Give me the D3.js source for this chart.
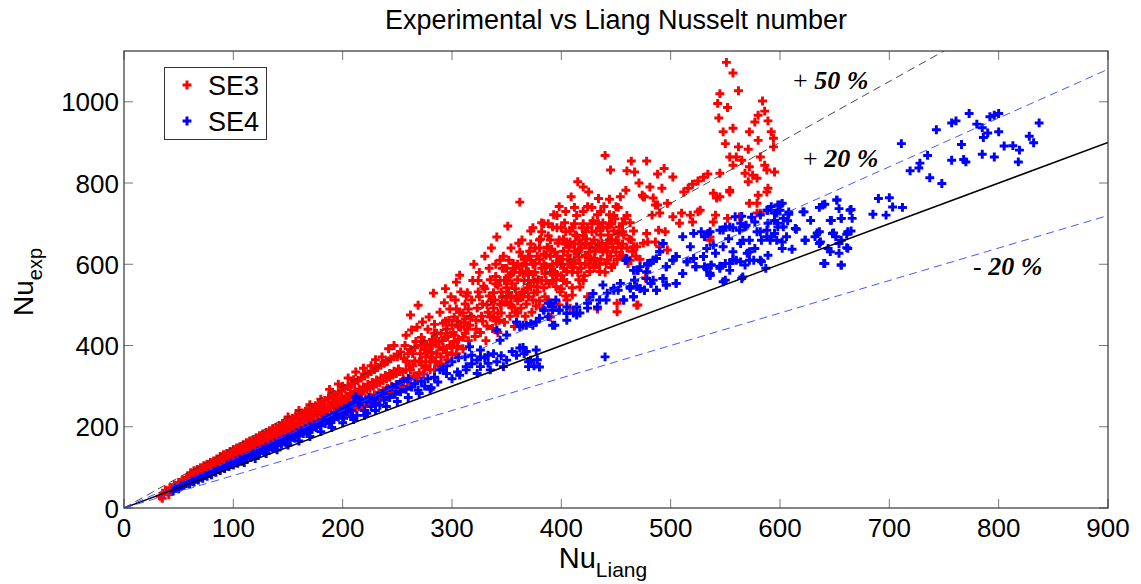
<!DOCTYPE html>
<html>
<head>
<meta charset="utf-8">
<script src="https://cdn.jsdelivr.net/npm/d3@7"></script>
<style>
html,body{margin:0;padding:0;background:#fff;}
svg{display:block;font-family:"Liberation Sans",Arial,Helvetica,sans-serif;}
</style>
</head>
<body>
<svg id="chart" width="1141" height="584"></svg>
<script>
// ---------------- data ----------------
const chartTitle = "Experimental vs Liang Nusselt number";
const xTicks = [0,100,200,300,400,500,600,700,800,900];
const yTicks = [0,200,400,600,800,1000];
const xDomain = [0,900];
const yDomain = [0,1125];
const seriesNames = ["SE3","SE4"];
const refRatios = [1.0,1.5,1.2,0.8];
const refLabels = [
  {ratio:1.5, sign:"+ ", text:"50 %"},
  {ratio:1.2, sign:"+ ", text:"20 %"},
  {ratio:0.8, sign:"- ", text:"20 %"}
];

// SE3 (red) [Nu_Liang, Nu_exp]
const se3 = [
[33,29],[35,24],[36,36],[38,44],[40,39],[41,33],[42,50],[44,47],[46,57],[47,51],[48,53],[50,63],[52,58],[53,66],[54,69],[56,63],[57,72],[58,75],
[60,69],[60,78],[61,87],[62,73],[63,82],[64,92],[66,75],[66,85],[67,95],[68,79],[69,89],[70,99],[72,83],[72,93],[73,104],[74,86],[75,96],[76,108],[77,89],[78,101],[79,112],[80,92],[81,104],[82,116],[83,95],[84,109],[85,121],[86,99],[87,112],[88,127],[89,103],[90,115],[91,131],[92,106],[93,120],[94,134],[95,110],[96,124],[97,139],[98,113],[99,127],[100,144],[101,116],[102,131],[103,148],[104,121],[105,135],[106,151],[107,124],[108,140],[109,156],[110,127],[111,143],[112,161],[113,130],[114,146],[115,165],[116,134],[117,151],[118,168],[119,137],[120,155],[121,173],[122,141],[123,158],[124,178],[125,144],[126,163],[127,182],[128,148],[129,166],[130,186],[131,152],[132,170],[133,190],[134,155],[135,174],[136,195],[137,158],[138,178],[139,199],[140,162],[141,182],[142,203],[143,166],[144,186],[145,208],[146,169],[147,190],[148,212],[149,173],[150,194],[151,216],[152,176],[153,198],[154,221],[155,180],[156,202],[157,225],[158,183],[159,206],[160,229],[161,186],[162,210],[163,234],[164,190],[165,214],[166,238],[167,194],[168,218],[169,243],[170,197],[171,222],[172,247],[173,200],[174,226],[175,252],[176,204],[177,230],[178,256],[179,207],[180,234],[181,260],[182,211],[183,238],[184,265],[185,214],[186,242],[187,270],[188,218],[189,246],[190,274],[191,221],[192,250],[193,279],[194,225],[195,254],[196,284],[197,228],[198,258],[199,289],[200,232],[201,262],[202,294],[203,235],[204,266],[205,299],[206,239],[207,271],[208,304],[209,242],[210,275],[211,309],[212,246],[213,279],[214,314],[215,249],[216,283],[217,320],[218,253],[219,288],[220,325],[221,256],[222,292],[223,330],[224,260],[225,296],[226,336],[227,263],[228,300],[229,341],[230,267],[231,305],[232,346],[233,270],[234,309],[235,351],[236,274],[237,314],[238,356],[239,277],[240,318],[241,362],[242,281],[243,322],[244,367],[245,285],[246,327],[247,372],[248,288],[249,331],[250,378],[251,292],[252,336],[253,384],
[62,79],[66,88],[70,90],[74,95],[78,96],[82,103],[86,107],[90,110],[94,118],[98,120],
[101,122],[103,139],[105,127],[107,144],[109,132],[111,150],[113,137],[115,155],[117,142],[119,161],[121,147],[123,166],[125,152],[127,172],[129,157],[131,177],[133,162],[135,183],[137,166],[139,188],[141,171],[143,194],[145,176],[147,199],[149,181],[151,205],[153,186],[155,210],[157,190],[159,216],[161,195],[163,221],[165,200],[167,227],[169,205],[171,232],[173,210],[175,238],[177,215],[179,243],[181,220],[183,249],[185,225],[187,254],[189,230],[191,260],[193,235],[195,265],[197,240],[199,271],[201,245],[203,276],[205,250],[207,282],[209,254],[211,287],[213,259],[215,293],[217,264],[219,298],[221,269],[223,304],[225,274],[227,309],[229,279],[231,315],[233,284],[235,320],[237,289],[239,326],[241,294],[243,331],[245,299],[247,337],[249,304],[251,342],[253,309],
[150,224],[160,240],[170,254],[180,268],[190,284],[200,300],[210,316],[220,330],[230,345],[240,360],[250,372],
[205,320],[219,344],[226,350],[236,372],[242,392],[212,335],[230,365],[247,400],[196,305],[188,292],
[255,300],[255,335],[256,368],[257,400],[258,425],[260,318],[261,352],[262,390],[262,475],[263,438],[265,325],[266,362],[267,410],[268,445],[269,499],[270,333],[271,380],[272,420],[273,458],[275,345],[276,372],[277,402],[278,440],[279,470],[280,340],[281,383],[282,415],[283,529],[284,452],[285,360],[286,430],[287,352],[288,396],[289,482],[290,372],[291,412],[292,455],[293,505],[294,540],[295,382],[296,422],[297,462],[298,490],[299,520],[300,378],[301,432],[302,470],[303,512],[304,556],[305,398],[306,446],[307,482],[307,573],[308,532],[310,392],[311,456],[312,502],[313,522],[315,412],[316,450],[317,472],[318,512],[319,560],[320,600],[321,422],[322,462],[323,492],[324,532],[325,580],[326,432],[327,472],[328,502],[329,546],[330,620],[331,412],[332,448],[333,482],[334,522],[335,562],[336,640],[337,442],[338,492],[339,512],[340,552],[341,667],[342,432],[343,462],[344,502],[345,532],[346,590],[347,620],[348,457],[349,507],[350,542],[351,694],[352,572],[353,472],[354,517],[355,552],[356,602],[357,447],[358,482],[359,522],[360,562],[361,652],[362,753],[363,492],[364,532],[365,577],[366,612],[367,472],[368,502],[369,542],[370,582],[371,632],[372,682],[373,482],[374,512],[375,557],[376,602],[377,497],[378,532],[379,562],[380,612],[381,662],[382,702],[383,492],[384,542],[385,577],[386,622],[387,642],[388,512],[389,552],[390,592],[391,637],[392,692],[393,722],[394,502],[395,562],[396,602],[397,652],[398,742],[399,532],[400,572],[401,612],[402,662],[403,702],[404,522],[405,582],[406,622],[407,642],[408,682],[409,766],[410,542],[411,592],[412,632],[413,672],[414,720],[415,803],[416,562],[417,602],[418,652],[419,690],[420,790],[421,572],[422,622],[423,662],[424,742],[425,778],[426,582],[427,612],[428,652],[429,707],[430,592],[431,632],[432,682],[433,722],[434,762],[435,582],[436,612],[437,652],[438,702],[439,742],[440,868],[441,602],[442,632],[443,672],[444,722],[445,832],[446,592],[447,642],[448,682],[449,712],[450,742],[451,612],[452,652],[453,692],[454,766],[456,622],[457,672],[458,712],[459,782],[460,830],[461,602],[462,662],[463,702],[464,854],[465,632],[466,682],[467,827],[468,585],[469,643],[470,500],[471,800],[472,612],[474,770],[475,652],[476,766],[478,854],[478,676],[479,655],[481,790],[483,721],[484,763],[486,655],[486,746],[488,822],[488,746],[489,684],[490,643],[490,726],[492,787],[494,836],[495,680],[497,635],[497,750],[502,815],[502,717],[508,701],[510,726],[512,778],[516,787],[518,721],[520,797],[520,704],[525,805],[525,729],[527,733],[530,814],[534,822],[536,667],[536,659],[539,704],[539,775],[541,721],[542,763],[543,996],[544,960],[545,1020],[545,824],[545,766],[548,926],[550,897],[551,1097],[552,986],[552,713],[554,778],[554,864],[554,782],[557,1071],[557,935],[557,844],[560,864],[562,1027],[562,889],[563,717],[565,856],[568,824],[571,883],[571,803],[572,926],[572,840],[572,750],[575,819],[577,950],[579,812],[579,750],[579,726],[580,967],[580,905],[580,770],[582,864],[582,726],[584,1002],[586,977],[586,844],[588,832],[588,778],[589,953],[589,787],[592,926],[594,910],[594,889],[595,827],
[390,470],[398,500],[405,512],[417,544],[424,520],[433,490],[451,504],[469,499],[408,492],[410,524],[451,483],[477,566],[463,610],[466,643],[475,766],
[332,500],[338,530],[342,548],[348,560],[354,575],[358,590],[364,595],[368,600],[374,600],[378,620],[384,625],[388,640],[394,630],[398,660],[404,650],[408,655],[414,670],[418,640],[424,690],[428,680],[434,700],[438,690],[444,700],[448,720],[384,600],[392,580],[396,620],[402,632],[412,610],[416,636],[422,648],[430,660],[436,672],[442,650],[452,675],[456,700],[420,700],[410,690],[400,690],[390,660],[380,640],[370,620],[360,600],[350,590],[340,570],[330,540],[325,520],[315,490],[310,480],[305,460],[300,450],[295,440],[290,430],[285,410],[280,400],[275,390],
[345,480],[352,500],[362,520],[372,545],[382,560],[392,600],[402,590],[412,650],[422,600],[432,640],[442,690],[352,610],[362,630],[372,650],[382,680],[366,560],[376,580],[386,595],[396,575],[406,600],[416,618],[426,630],[436,640],[446,660],[456,650],[318,470],[328,460],[338,470],[322,440],[312,430],[302,410],[292,395],[282,370],[272,360],[262,340],[258,362],[264,380],[274,410],[284,430],[294,460],[304,490],[314,530],[324,560],[334,590],[344,610],[354,640],[364,660],[374,690],
[256,315],[258,340],[260,380],[262,305],[264,350],[266,395],[268,320],[270,360],[272,400],[274,330],[276,350],[278,385],[280,360],[282,400],[284,340],[286,380],[288,410],[290,355],[292,390],[294,420],[296,365],[298,400],[300,395],[302,425],[304,380],[306,415],[308,445],[310,420],[312,465],[314,440],
[335,470],[345,500],[355,495],[365,520],[375,530],[385,520],[395,545],[405,555],[415,580],[425,600],[435,600],[445,620],[455,640],[340,460],[360,480],[380,510],[400,540],[420,560],[440,580],[350,520],[370,560],[390,580],[410,600],[430,615],[450,630],
[342,480],[346,520],[350,560],[354,500],[358,540],[362,580],[366,530],[370,520],[374,575],[378,545],[382,590],[386,560],[390,620],[394,580],[398,610],[402,560],[406,650],[410,580],[414,630],[418,590],[422,680],[426,640],[430,610],[434,650],[438,630],[442,610],[446,700],[450,660],[454,620],[444,660],[436,690],[428,700],[420,670],[412,700],[404,680],[396,690],[388,670],[380,660],[372,610],[364,620],[356,580],[348,590],[340,600],[336,510],[344,560],[352,530],[360,510],[368,580],[376,640],[384,700],[392,560],[400,600],[408,610],[416,660],[424,620],[432,600],[440,640],[448,600],[456,680],[460,640],[464,660],[468,620],[460,720],[452,740],[444,760],[436,730],[428,740],[420,730],[412,740],[404,730],[396,720],[388,700]
];

// SE4 (blue) [Nu_Liang, Nu_exp]
const se4 = [
[45,42],[47,48],[50,47],[52,54],[55,56],[57,60],[60,60],[62,66],[64,64],[66,71],[68,69],[70,76],[72,73],[74,80],[76,78],[78,85],[80,82],[82,90],[84,88],[86,95],[88,92],[90,100],[92,97],[94,106],[96,102],[98,110],[100,106],[102,115],[104,110],[106,120],[108,115],[110,125],[112,120],[114,130],[116,124],[118,135],[120,129],[122,140],[124,134],[126,145],[128,138],[130,150],[132,143],[134,155],[136,148],[138,160],[140,153],[142,165],[144,157],[146,170],[148,162],[150,175],[152,167],[154,180],[156,172],[158,186],[160,178],[162,190],[164,183],[166,195],[168,188],[170,200],[172,193],[174,205],[176,198],[178,210],[180,203],[182,216],[184,208],[186,222],[188,213],[190,228],[192,218],[194,234],[196,224],[198,240],[200,230],[201,221],[202,246],[204,236],[206,252],[208,240],[209,225],[210,260],[212,274],[213,228],[215,254],[217,268],[220,240],[222,233],[222,262],[224,272],[226,250],[228,268],[230,258],[232,276],[234,253],[236,282],[238,266],[240,290],[243,272],[245,298],[248,280],[250,304],[253,286],[255,312],[258,292],[260,318],[263,298],[266,306],[269,290],[272,312],[275,300],[278,318],[281,296],[284,322],[287,310],
[110,112],[120,122],[130,134],[140,143],[150,155],[160,165],[170,176],[180,188],[190,198],[200,210],[210,218],[220,228],[230,240],[240,250],[250,262],[260,272],[270,282],[280,292],
[289,340],[295,350],[300,360],[306,370],[312,372],[318,376],[326,372],
[292,340],[295,331],[300,318],[305,335],[307,327],[313,340],[313,348],[316,397],[318,355],[323,331],[323,364],[326,348],[326,389],[330,370],[333,356],[333,376],[335,340],[338,380],[341,360],[345,375],[347,348],[350,364],[355,385],[359,376],[362,394],[365,395],[366,380],[368,385],[370,348],[370,360],[372,364],[375,350],[377,389],[378,365],[380,347],[440,372],
[341,438],[344,413],[350,426],[359,458],[365,450],[372,454],[377,458],[384,487],[388,471],[390,504],[392,487],[392,450],[395,512],[398,487],[405,479],[405,495],[411,480],[414,495],[417,480],[424,492],[424,504],[426,512],[429,528],[433,495],[435,512],[438,549],[441,512],[442,529],[448,536],[448,541],[452,536],[454,553],[457,512],[459,610],[460,614],[463,541],[463,544],[466,520],[466,585],[467,561],[469,545],[470,585],[472,540],[472,594],[476,536],[478,565],[478,581],[479,602],[479,598],[482,553],[484,561],[484,610],[487,614],[487,536],[490,631],[493,651],[493,565],[496,549],[496,594],[502,610],[505,619],[505,553],[511,577],[511,668],[515,606],[518,643],[521,614],[521,676],[523,594],[528,680],[530,619],[533,639],[533,590],[534,676],[536,573],[537,598],
[362,446],[368,450],[374,450],[380,467],[384,487],[388,504],[392,495],[394,450],[398,487],[405,462],[414,475],
[541,627],[548,684],[554,692],[564,701],[569,696],[559,717],[565,718],[589,733],[600,746],[597,726],[608,729],[589,701],[598,701],[603,692],[582,680],[588,668],[597,659],[606,668],[614,688],[621,729],[628,708],[623,659],[632,668],[636,680],[639,746],[647,708],[652,758],[656,713],[664,733],[662,680],[648,676],[654,651],[662,639],[640,602],[656,598],[646,631],[636,651],
[548,643],[557,631],[560,610],[568,598],[576,610],[583,606],[572,631],[564,651],[550,602],[545,590],[537,598],[533,590],[536,573],[550,561],[565,565],[554,585],[557,610],[521,614],[515,606],[523,594],[530,619],[511,577],[502,610],[505,619],[496,594],[484,610],[479,598],[478,581],[470,585],[467,561],[487,536],[496,549],[505,553],[493,565],[482,553],[476,536],[466,520],[457,512],[472,540],[463,544],[459,610],[493,651],[490,631],
[685,723],[690,762],[697,721],[700,764],[703,741],[712,740],[652,758],[654,737],[665,735],[666,713],[641,748],[636,740],[646,708],[656,713],[665,682],[661,674],[649,677],[651,668],[656,659],[654,627],[661,641],[644,639],[641,602],[656,598],[634,677],[637,655],[623,659],[615,686],[608,723],[622,729],[611,637],[602,655],[602,639],[589,622],[582,610],[587,590],[566,569],[548,557],[536,578],[531,594],[545,595],[554,602],[557,612],[564,606],[572,610],[570,627],[577,639],[583,659],[591,659],[572,659],[566,659],[563,684],[568,692],[557,690],[550,692],[545,684],[536,680],[531,668],[539,647],[553,663],[579,680],[588,684],[592,668],[577,704],[574,716],[582,721],[588,733],[592,742],[598,746],[602,750],[600,733],[595,726],[603,713],[607,707],[595,708],[598,692],[595,676],
[711,897],[719,830],[727,837],[728,849],[735,868],[737,813],[743,931],[748,799],[757,948],[761,953],[773,971],[757,856],[766,895],[768,858],[770,852],[780,945],[785,936],[786,912],[790,923],[792,963],[796,967],[800,971],[800,926],[785,871],[796,864],[805,891],[813,892],[819,881],[818,852],[828,915],[832,899],[837,948]
];

// ---------------- layout ----------------
const W = 1141, H = 584;
const plot = {left:124, right:1108, top:51, bottom:508};
const sansFont = "'Liberation Sans', Arial, Helvetica, sans-serif";
const serifFont = "'Liberation Serif', 'Times New Roman', Times, serif";
const svg = d3.select("#chart");
const x = d3.scaleLinear().domain(xDomain).range([plot.left, plot.right]);
const y = d3.scaleLinear().domain(yDomain).range([plot.bottom, plot.top]);

svg.append("rect").attr("width",W).attr("height",H).attr("fill","#fff");
svg.append("defs").append("clipPath").attr("id","clip")
  .append("rect").attr("x",plot.left).attr("y",plot.top)
  .attr("width",plot.right-plot.left).attr("height",plot.bottom-plot.top);

const colors = {SE3:"#ff0000", SE4:"#0000ff"};
const sym = d3.symbol().type(d3.symbolCross).size(44);

const gData = svg.append("g").attr("clip-path","url(#clip)");
[[se3,"SE3"],[se4,"SE4"]].forEach(([pts,name])=>{
  gData.append("g").selectAll("path").data(pts).join("path")
    .attr("d", sym)
    .attr("transform", d=>`translate(${x(d[0])},${y(d[1])})`)
    .attr("fill", colors[name]);
});

// reference lines
const refStyle = {
  "1": {stroke:"#000", width:1.5, dash:null},
  "1.5": {stroke:"#333", width:0.9, dash:"8,5"},
  "1.2": {stroke:"#3344ff", width:0.9, dash:"8,5"},
  "0.8": {stroke:"#3344ff", width:0.9, dash:"8,5"}
};
const gLines = svg.append("g").attr("clip-path","url(#clip)");
refRatios.forEach(k=>{
  const s = refStyle[String(k)];
  gLines.append("line")
    .attr("x1", x(xDomain[0])).attr("y1", y(k*xDomain[0]))
    .attr("x2", x(xDomain[1])).attr("y2", y(k*xDomain[1]))
    .attr("stroke", s.stroke).attr("stroke-width", s.width)
    .attr("stroke-dasharray", s.dash);
});

// axes
const tickLen = 9;
const gAx = svg.append("g").style("font-family", sansFont);
xTicks.forEach(t=>{
  gAx.append("line").attr("x1",x(t)).attr("x2",x(t)).attr("y1",plot.bottom).attr("y2",plot.bottom-tickLen).attr("stroke","#777");
  gAx.append("line").attr("x1",x(t)).attr("x2",x(t)).attr("y1",plot.top).attr("y2",plot.top+tickLen).attr("stroke","#777");
  gAx.append("text").attr("x",x(t)).attr("y",537).attr("text-anchor","middle")
    .attr("font-size",26).text(t);
});
yTicks.forEach(t=>{
  gAx.append("line").attr("x1",plot.left).attr("x2",plot.left+tickLen).attr("y1",y(t)).attr("y2",y(t)).attr("stroke","#777");
  gAx.append("line").attr("x1",plot.right).attr("x2",plot.right-tickLen).attr("y1",y(t)).attr("y2",y(t)).attr("stroke","#777");
  gAx.append("text").attr("x",119).attr("y",y(t)+9.5).attr("text-anchor","end")
    .attr("font-size",26).text(t);
});
gAx.append("rect").attr("x",plot.left).attr("y",plot.top)
  .attr("width",plot.right-plot.left).attr("height",plot.bottom-plot.top)
  .attr("fill","none").attr("stroke","#333").attr("stroke-width",1.2);

// annotations
const annPos = [[793,89],[803,167],[973,275]];
refLabels.forEach((r,i)=>{
  const t = svg.append("text").attr("x",annPos[i][0]).attr("y",annPos[i][1])
    .style("font-family", serifFont).attr("font-size",26);
  t.append("tspan").text(r.sign);
  t.append("tspan").attr("font-weight","bold").attr("font-style","italic").text(r.text);
});

// title
svg.append("text").attr("x",616).attr("y",29).attr("text-anchor","middle")
  .style("font-family", sansFont).attr("font-size",27).text(chartTitle);

// axis labels
const xl = svg.append("text").attr("x",603).attr("y",568).attr("text-anchor","middle")
  .style("font-family", sansFont).attr("font-size",29);
xl.append("tspan").text("Nu");
xl.append("tspan").attr("font-size",21).attr("dy",9).text("Liang");

const yl = svg.append("text").attr("transform","translate(33,282) rotate(-90)").attr("text-anchor","middle")
  .style("font-family", sansFont).attr("font-size",28);
yl.append("tspan").text("Nu");
yl.append("tspan").attr("font-size",20).attr("dy",9).text("exp");

// legend
const lg = svg.append("g").style("font-family", sansFont);
lg.append("rect").attr("x",164.5).attr("y",67.5).attr("width",102).attr("height",72)
  .attr("fill","#fff").attr("stroke","#333").attr("stroke-width",1);
seriesNames.forEach((n,i)=>{
  const cy = 85 + i*36;
  lg.append("path").attr("d",sym).attr("transform",`translate(187,${cy})`).attr("fill",colors[n]);
  lg.append("text").attr("x",208).attr("y",cy+10).attr("font-size",27).text(n);
});
</script>
</body>
</html>
